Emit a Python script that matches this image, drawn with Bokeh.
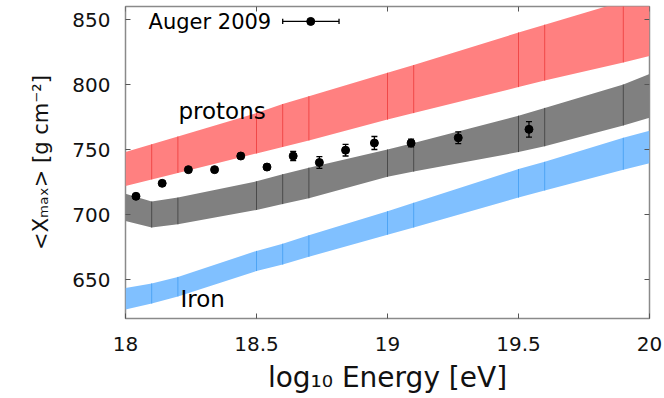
import numpy as np
from bokeh.plotting import figure
from bokeh.models import Range1d, FixedTicker, Label, Whisker, ColumnDataSource, TeeHead
from bokeh.embed import file_html
from bokeh.resources import INLINE

# ---------------- data ----------------
band_x = [18.0, 18.1, 18.2, 18.5, 18.6, 18.7, 19.0, 19.1, 19.5, 19.6, 19.9, 20.0]
proton_hi = [748, 754, 760, 778, 785, 791, 809, 815, 840, 846, 864, 870]
proton_lo = [722, 727, 732, 747, 752, 757, 773, 778, 798, 803, 817, 822]
mixed_hi = [716, 710, 713, 725.5, 731, 736, 750, 755, 776, 782, 800, 808]
mixed_lo = [695, 690, 692.5, 703.5, 708, 712.5, 729, 733, 748, 752.5, 768.5, 774.5]
iron_hi = [643.5, 647, 652, 672, 677.5, 684, 702.5, 709, 735, 740.5, 759, 764.5]
iron_lo = [627, 631.5, 637, 656.5, 661.5, 667.5, 684.5, 690, 713, 718.5, 734.5, 739.5]

auger_x = [18.04, 18.14, 18.24, 18.34, 18.44, 18.54, 18.64, 18.74, 18.84, 18.95, 19.09, 19.27, 19.54]
auger_y = [714, 724, 734.5, 734.5, 745, 736.5, 745, 740, 749.5, 755, 755, 759, 765.5]
auger_err = [1.5, 1.5, 1.5, 1.5, 2, 2, 3.5, 4.5, 4.5, 5, 3, 4.5, 6]

x_ticks = [18, 18.5, 19, 19.5, 20]
y_ticks = [650, 700, 750, 800, 850]
x_range = (18, 20)
y_range = (620, 860)

FONT = "DejaVu Sans"
TICK_COLOR = "#555555"

p = figure(frame_width=524, frame_height=312,
           x_range=Range1d(*x_range), y_range=Range1d(*y_range),
           output_backend="svg", toolbar_location=None,
           min_border_left=125, min_border_right=15, min_border_top=6, min_border_bottom=0,
           background_fill_color="white", border_fill_color="white")
p.xgrid.visible = False
p.ygrid.visible = False
p.outline_line_color = "#8a8a8a"
p.outline_line_width = 1.5

# ---------------- bands ----------------
def band(lo, hi, fill, seam):
    p.varea(x=band_x, y1=lo, y2=hi, fill_color=fill, fill_alpha=1.0)
    p.segment(x0=band_x[1:-1], y0=lo[1:-1], x1=band_x[1:-1], y1=hi[1:-1],
              line_color=seam, line_width=1)

band(proton_lo, proton_hi, "#ff8080", "#f04848")
band(mixed_lo, mixed_hi, "#808080", "#4a4a4a")
band(iron_lo, iron_hi, "#80c0ff", "#4ea4f4")

# ---------------- data points ----------------
ax = np.array(auger_x)
ay = np.array(auger_y)
ae = np.array(auger_err)
src = ColumnDataSource(dict(x=ax, y=ay, upper=ay + ae, lower=ay - ae))
p.add_layout(Whisker(source=src, base="x", upper="upper", lower="lower",
                     dimension="height", line_color="black", line_width=1.3,
                     level="overlay",
                     upper_head=TeeHead(size=6, line_color="black", line_width=1.3),
                     lower_head=TeeHead(size=6, line_color="black", line_width=1.3)))
p.scatter(x="x", y="y", source=src, size=8, color="black")

# ---------------- legend (gnuplot style: text, then sample) ----------------
leg_y = 848.5
leg_x0, leg_x1, leg_dot = 18.6, 18.815, 18.707
p.add_layout(Label(x=18.088, y=848, text="Auger 2009", text_font=FONT,
                   text_font_size="21px", text_color="black",
                   text_baseline="alphabetic"))
p.segment(x0=[leg_x0], y0=[leg_y], x1=[leg_x1], y1=[leg_y], line_color="black", line_width=1.3)
p.segment(x0=[leg_x0, leg_x1], y0=[leg_y - 2, leg_y - 2], x1=[leg_x0, leg_x1],
          y1=[leg_y + 2, leg_y + 2], line_color="black", line_width=1.3)
p.scatter(x=[leg_dot], y=[leg_y], size=8, color="black")

# ---------------- band labels ----------------
p.add_layout(Label(x=18.202, y=780, text="protons", text_font=FONT,
                   text_font_size="23px", text_color="black", text_baseline="alphabetic"))
p.add_layout(Label(x=18.21, y=635, text="Iron", text_font=FONT,
                   text_font_size="23px", text_color="black", text_baseline="alphabetic"))

# ---------------- axes ----------------
for a, ticks in ((p.xaxis[0], x_ticks), (p.yaxis[0], y_ticks)):
    a.ticker = FixedTicker(ticks=ticks)
    a.major_tick_in = 5
    a.major_tick_out = 0
    a.minor_tick_line_color = None
    a.major_tick_line_color = TICK_COLOR
    a.axis_line_color = None
    a.major_label_text_font = FONT
    a.major_label_text_font_size = "20px"
    a.major_label_text_color = "#111111"
    a.major_label_standoff = 15
    a.axis_label_text_font = FONT
    a.axis_label_text_font_style = "normal"
    a.axis_label_text_color = "#111111"

xa = p.xaxis[0]
xa.major_label_standoff = 18
xa.axis_label = "log\u2081\u2080 Energy [eV]"
xa.axis_label_text_font_size = "28px"
xa.axis_label_standoff = 7

ya = p.yaxis[0]
ya.axis_label = "<X\u2098\u2090\u2093> [g cm\u207b\u00b2]"
ya.axis_label_text_font_size = "21px"
ya.axis_label_standoff = 16

# inner ticks on the top and right edges of the frame
p.ray(x=x_ticks, y=[y_range[1]] * len(x_ticks), length=5, length_units="screen",
      angle=-np.pi / 2, line_color=TICK_COLOR, line_width=1)
p.ray(x=[x_range[1]] * len(y_ticks), y=y_ticks, length=5, length_units="screen",
      angle=np.pi, line_color=TICK_COLOR, line_width=1)

open("out.html", "w").write(file_html(p, INLINE))
